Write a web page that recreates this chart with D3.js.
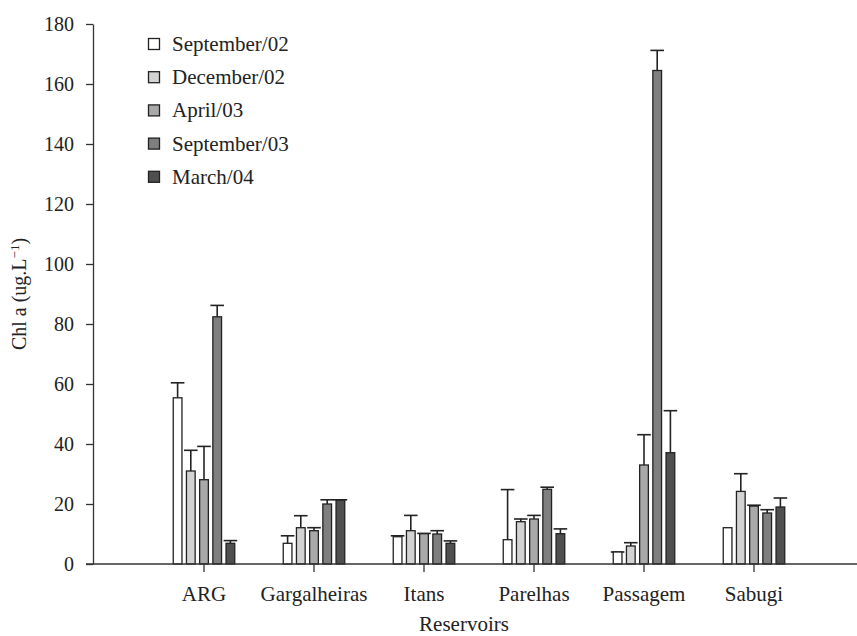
<!DOCTYPE html>
<html>
<head>
<meta charset="utf-8">
<script src="https://cdn.jsdelivr.net/npm/d3@7"></script>
<style>
  body { margin: 0; background: #fff; }
  text { font-family: "Liberation Serif", "Times New Roman", serif; fill: #222; }
</style>
</head>
<body>
<div id="visualization"></div>
<script>
// data (Chl a, ug/L), mean and top of the error bar
var reservoirs = ["ARG", "Gargalheiras", "Itans", "Parelhas", "Passagem", "Sabugi"];
var periods = ["September/02", "December/02", "April/03", "September/03", "March/04"];
var periodColors = ["#ffffff", "#d3d3d3", "#a9a9a9", "#7f7f7f", "#4f4f4f"];

var sep02 = [55.4, 6.9, 9.1, 8.1, 4.0, 12.1];
var dec02 = [31.0, 12.1, 11.1, 14.1, 6.0, 24.2];
var apr03 = [28.1, 11.1, 10.1, 15.0, 33.0, 19.3];
var sep03 = [82.4, 20.0, 10.0, 24.9, 164.5, 17.0];
var mar04 = [6.9, 21.3, 6.9, 10.1, 37.1, 19.0];

var sep02Top = [60.4, 9.4, 9.4, 24.8, 4.0, null];
var dec02Top = [37.9, 16.1, 16.2, 15.0, 7.1, 30.1];
var apr03Top = [39.2, 12.1, 10.2, 16.2, 43.1, 19.6];
var sep03Top = [86.2, 21.4, 11.1, 25.6, 171.2, 18.1];
var mar04Top = [7.8, 21.4, 7.7, 11.7, 51.1, 22.0];

var yTicks = [0, 20, 40, 60, 80, 100, 120, 140, 160, 180];

var values = [sep02, dec02, apr03, sep03, mar04];
var tops = [sep02Top, dec02Top, apr03Top, sep03Top, mar04Top];

var chart = {width: 857, height: 636, left: 93, top: 24, bottom: 564};
var serif = '"Liberation Serif", "Times New Roman", serif';

var svg = d3.select("div#visualization")
  .append("svg")
  .attr("width", chart.width)
  .attr("height", chart.height);

var x0 = d3.scaleBand()
  .domain(reservoirs)
  .range([149, 809]);

var x1 = d3.scaleBand()
  .domain(periods)
  .range([22, 88])
  .paddingInner(0.34)
  .paddingOuter(0.17);

var y = d3.scaleLinear()
  .domain([0, 180])
  .range([chart.bottom, chart.top]);

// flatten into one record per bar
var bars = [];
reservoirs.forEach(function(r, i) {
  periods.forEach(function(p, j) {
    bars.push({reservoir: r, period: p, k: j, value: values[j][i], top: tops[j][i]});
  });
});

var groups = svg.append("g").selectAll("g.bar")
  .data(bars)
  .enter().append("g")
  .attr("class", "bar")
  .attr("transform", function(d) { return "translate(" + (x0(d.reservoir) + x1(d.period)) + ",0)"; });

// error bars first so the bar outline covers the foot of the stem
var withErr = groups.filter(function(d) { return d.top != null; });

withErr.append("line")
  .attr("x1", x1.bandwidth() / 2)
  .attr("x2", x1.bandwidth() / 2)
  .attr("y1", function(d) { return y(d.value); })
  .attr("y2", function(d) { return y(d.top); })
  .style("stroke", "#222")
  .style("stroke-width", 1.6);

withErr.append("line")
  .attr("x1", x1.bandwidth() / 2 - 6.8)
  .attr("x2", x1.bandwidth() / 2 + 6.8)
  .attr("y1", function(d) { return y(d.top); })
  .attr("y2", function(d) { return y(d.top); })
  .style("stroke", "#222")
  .style("stroke-width", 1.6);

groups.append("rect")
  .attr("x", 0)
  .attr("y", function(d) { return y(d.value); })
  .attr("width", x1.bandwidth())
  .attr("height", function(d) { return chart.bottom - y(d.value); })
  .style("fill", function(d) { return periodColors[d.k]; })
  .style("stroke", "#222")
  .style("stroke-width", 1.3);

// y axis
var yAxis = svg.append("g")
  .attr("transform", "translate(" + chart.left + ",0)")
  .call(d3.axisLeft(y).tickValues(yTicks).tickSize(7).tickPadding(12).tickSizeOuter(0))
  .attr("font-family", serif)
  .attr("font-size", 20);
yAxis.select(".domain").style("stroke", "#333").style("stroke-width", 1.3);
yAxis.selectAll(".tick line").style("stroke", "#333").style("stroke-width", 1.3);
yAxis.selectAll(".tick text").style("font-family", serif).style("font-size", "20px").style("fill", "#222");

// x axis: line runs across the full width
svg.append("line")
  .attr("x1", 86).attr("x2", chart.width)
  .attr("y1", chart.bottom).attr("y2", chart.bottom)
  .style("stroke", "#333").style("stroke-width", 1.3);

var xAxis = svg.append("g")
  .attr("transform", "translate(0," + chart.bottom + ")")
  .call(d3.axisBottom(x0).tickSize(8).tickPadding(14).tickSizeOuter(0))
  .attr("font-family", serif)
  .attr("font-size", 21);
xAxis.select(".domain").remove();
xAxis.selectAll(".tick line").style("stroke", "#333").style("stroke-width", 1.3);
xAxis.selectAll(".tick text").style("font-family", serif).style("font-size", "21px").style("fill", "#222");

svg.append("text")
  .attr("x", 464)
  .attr("y", 631)
  .attr("text-anchor", "middle")
  .style("font-size", "21px")
  .text("Reservoirs");

var yLabel = svg.append("text")
  .attr("transform", "translate(26,294) rotate(-90)")
  .attr("text-anchor", "middle")
  .style("font-size", "20px");
yLabel.append("tspan").text("Chl a (ug.L");
yLabel.append("tspan").attr("dy", -7).style("font-size", "13px").text("\u22121");
yLabel.append("tspan").attr("dy", 7).text(")");

// legend
var legend = svg.append("g").selectAll("g.legend")
  .data(periods)
  .enter().append("g")
  .attr("class", "legend")
  .attr("transform", function(d, i) { return "translate(148," + (51 + i * 33.2) + ")"; });

legend.append("rect")
  .attr("x", 0.5)
  .attr("y", -12.5)
  .attr("width", 11)
  .attr("height", 11)
  .style("fill", function(d, i) { return periodColors[i]; })
  .style("stroke", "#222")
  .style("stroke-width", 1.3);

legend.append("text")
  .attr("x", 24)
  .attr("y", 0)
  .style("font-size", "21px")
  .text(function(d) { return d; });
</script>
</body>
</html>
